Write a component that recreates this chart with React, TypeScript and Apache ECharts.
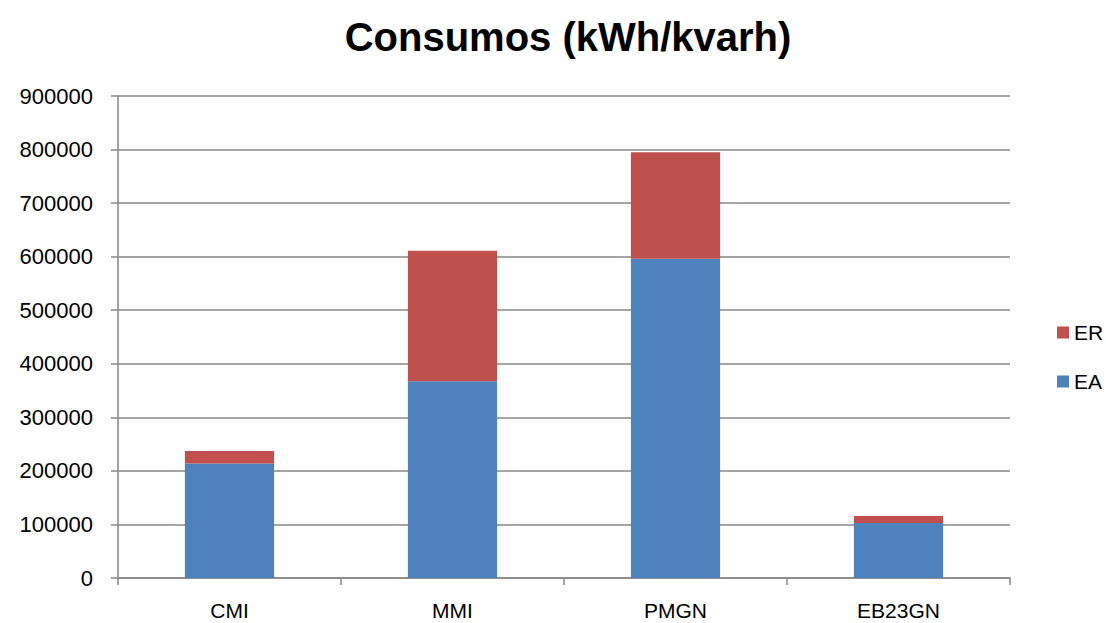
import React, { useEffect, useRef } from "react";
import * as echarts from "echarts";

const categories = ["CMI", "MMI", "PMGN", "EB23GN"];
const eaValues = [214000, 367500, 596000, 102500];
const erValues = [23000, 243500, 199000, 13500];
const titleText = "Consumos (kWh/kvarh)";

export default function App() {
  const ref = useRef<HTMLDivElement>(null);
  useEffect(() => {
    if (!ref.current) return;
    const chart = echarts.init(ref.current, null, { renderer: "svg" });
    const font = "'Liberation Sans', Arial, sans-serif";
    const gray = "#878787";
    chart.setOption({
      animation: false,
      backgroundColor: "#ffffff",
      textStyle: { fontFamily: font },
      title: {
        text: titleText,
        left: 563,
        top: 12,
        textAlign: "center",
        textStyle: { fontFamily: font, fontSize: 40, fontWeight: "bold", color: "#000" },
      },
      legend: {
        orient: "vertical",
        left: 1052,
        top: 317,
        data: ["ER", "EA"],
        itemWidth: 12,
        itemHeight: 12,
        itemGap: 28,
        icon: "rect",
        textStyle: { fontFamily: font, fontSize: 21, color: "#000", padding: [0, 0, 0, 0] },
      },
      grid: { left: 118, right: 96, top: 96, bottom: 45, containLabel: false },
      xAxis: {
        type: "category",
        data: categories,
        axisLine: { show: true, lineStyle: { color: gray, width: 1.5 } },
        axisTick: { show: true, length: 7, lineStyle: { color: gray, width: 1.5 } },
        axisLabel: { fontFamily: font, fontSize: 21, color: "#000", margin: 22 },
      },
      yAxis: {
        type: "value",
        min: 0,
        max: 900000,
        interval: 100000,
        axisLine: { show: true, lineStyle: { color: gray, width: 1.5 } },
        axisTick: { show: true, length: 7, lineStyle: { color: gray, width: 1.5 } },
        splitLine: { show: true, lineStyle: { color: gray, width: 1.5 } },
        axisLabel: {
          fontFamily: font,
          fontSize: 22,
          color: "#000",
          margin: 25,
          formatter: (v: number) => String(v),
        },
      },
      series: [
        {
          name: "EA",
          type: "bar",
          stack: "total",
          data: eaValues,
          barCategoryGap: "60%",
          itemStyle: { color: "#4F81BD" },
        },
        {
          name: "ER",
          type: "bar",
          stack: "total",
          data: erValues,
          barCategoryGap: "60%",
          itemStyle: { color: "#C0504D" },
        },
      ],
    });
    return () => chart.dispose();
  }, []);
  return (
    <div
      ref={ref}
      style={{ position: "fixed", left: 0, top: 0, width: 1106, height: 623 }}
    />
  );
}
